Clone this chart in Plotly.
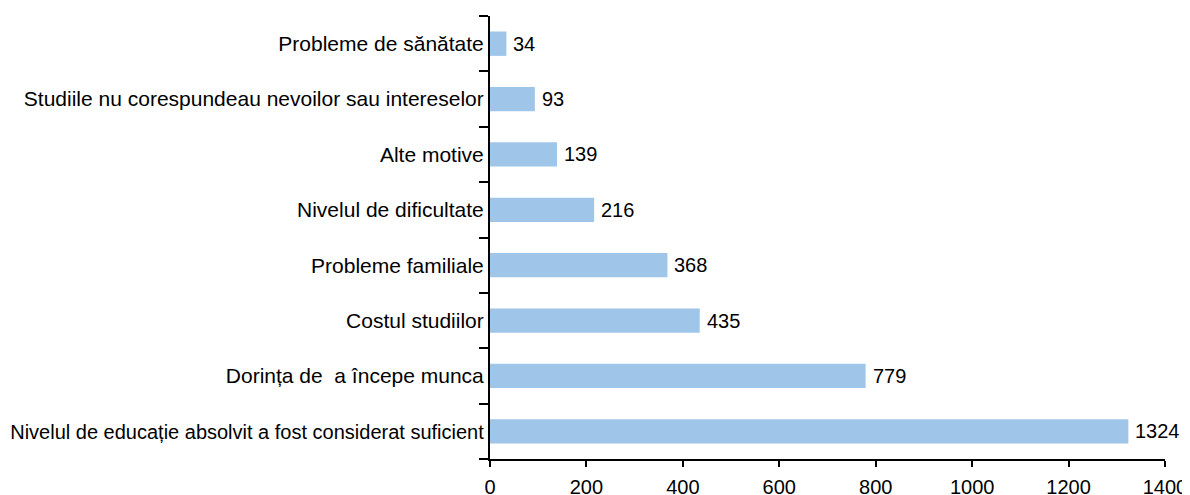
import plotly.graph_objects as go

categories = [
    "Nivelul de educație absolvit a fost considerat suficient",
    "Dorința de  a începe munca",
    "Costul studiilor",
    "Probleme familiale",
    "Nivelul de dificultate",
    "Alte motive",
    "Studiile nu corespundeau nevoilor sau intereselor",
    "Probleme de sănătate",
]
values = [1324, 779, 435, 368, 216, 139, 93, 34]
x_ticks = [0, 200, 400, 600, 800, 1000, 1200, 1400]

font_family = "Liberation Sans, Arial, sans-serif"

# the longest label is drawn a touch smaller so it fits, as in the reference
tick_text = [
    f'<span style="font-size:20px">{c}</span>' if len(c) > 50 else c
    for c in categories
]

fig = go.Figure()
fig.add_trace(go.Bar(
    x=values, y=categories, orientation="h",
    marker=dict(color="#9FC5E8", line=dict(width=0)),
    width=0.44,
    hoverinfo="x+y",
))

for v, c in zip(values, categories):
    fig.add_annotation(
        x=v, y=c, text=str(v), showarrow=False,
        xanchor="left", yanchor="middle", xshift=5,
        font=dict(family=font_family, size=20, color="#000000"),
    )

# page body has an 8px margin, so the figure is offset by 8px
fig.update_layout(
    width=1182, height=487,
    margin=dict(l=482, r=25, t=8, b=36, autoexpand=False),
    paper_bgcolor="white", plot_bgcolor="white",
    showlegend=False,
    bargap=0.56,
    font=dict(family=font_family, color="#000000"),
)
fig.update_xaxes(
    range=[0, 1400], tickvals=x_ticks, ticktext=[str(t) for t in x_ticks],
    showgrid=False, zeroline=False, automargin=False,
    showline=True, linecolor="black", linewidth=2,
    ticks="outside", ticklen=6, tickwidth=2, tickcolor="black",
    tickfont=dict(family=font_family, size=20, color="#000000"),
    ticklabelstandoff=3,
)
fig.update_yaxes(
    categoryorder="array", categoryarray=categories,
    tickmode="array", tickvals=categories, ticktext=tick_text,
    range=[-0.5, 7.5], automargin=False,
    showgrid=False, zeroline=False,
    showline=True, linecolor="black", linewidth=2,
    ticks="outside", ticklen=9, tickwidth=2, tickcolor="black",
    tickson="boundaries",
    tickfont=dict(family=font_family, size=21, color="#000000"),
)

fig.write_html("out.html")
